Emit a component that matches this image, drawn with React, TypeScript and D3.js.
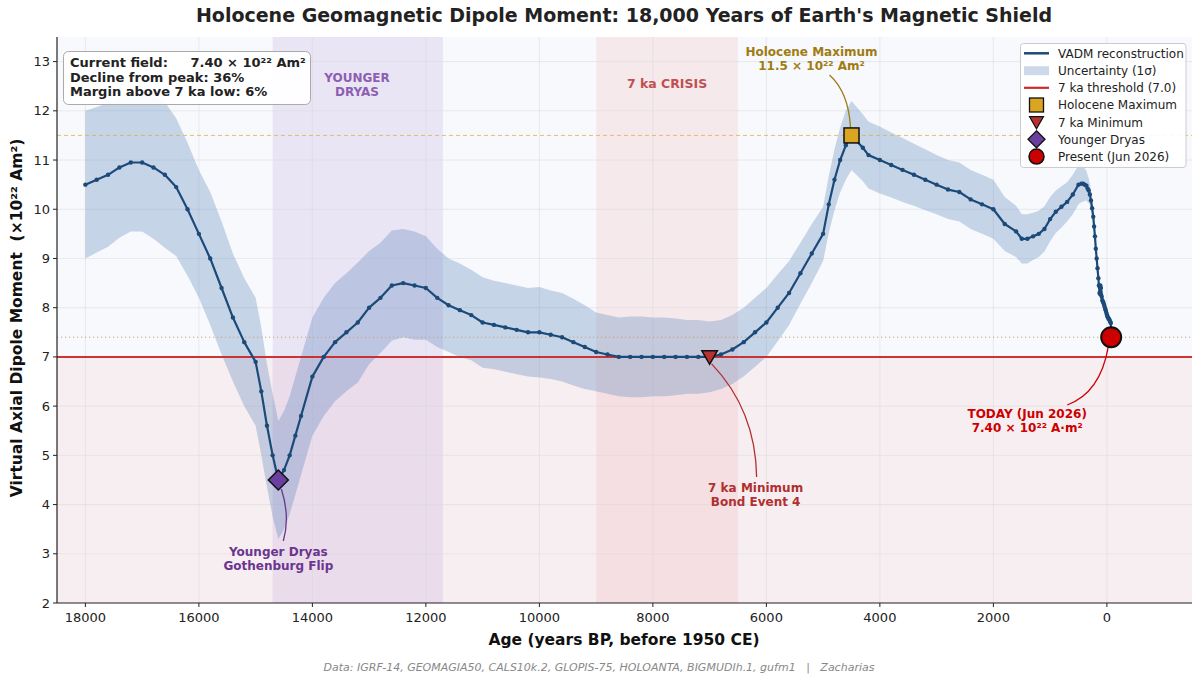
import React from "react";
import * as d3 from "d3";

const ages = [18000,17800,17600,17400,17200,17000,16800,16600,16400,16200,16000,15800,15600,15400,15200,15000,14900,14800,14700,14600,14500,14400,14300,14200,14000,13800,13600,13400,13200,13000,12800,12600,12400,12200,12000,11800,11600,11400,11200,11000,10800,10600,10400,10200,10000,9800,9600,9400,9200,9000,8800,8600,8400,8200,8000,7800,7600,7400,7200,7000,6800,6600,6400,6200,6000,5800,5600,5400,5200,5000,4900,4800,4700,4600,4500,4300,4200,4000,3800,3600,3400,3200,3000,2800,2600,2400,2200,2000,1800,1600,1500,1400,1300,1200,1100,1000,900,800,700,600,500,450,420,390,360,340,320,300,280,260,240,225,210,195,180,165,150,140,130,125,120,115,110,105,100,90,80,70,60,50,40,30,20,10,0,-10,-20,-30,-40,-50,-60,-70,-76];
const vadm = [10.5,10.6,10.7,10.85,10.95,10.95,10.85,10.7,10.45,10.0,9.5,9.0,8.4,7.8,7.3,6.9,6.3,5.6,5.0,4.5,4.7,5.0,5.4,5.8,6.6,7.0,7.3,7.5,7.7,8.0,8.2,8.45,8.5,8.45,8.4,8.2,8.05,7.95,7.85,7.7,7.65,7.6,7.55,7.5,7.5,7.45,7.4,7.3,7.2,7.1,7.05,7.0,7.0,7.0,7.0,7.0,7.0,7.0,7.0,7.0,7.05,7.15,7.3,7.5,7.7,8.0,8.3,8.7,9.1,9.5,10.1,10.6,11.0,11.3,11.5,11.25,11.1,11.0,10.9,10.8,10.7,10.6,10.5,10.4,10.35,10.2,10.1,10.0,9.7,9.55,9.4,9.4,9.45,9.5,9.6,9.8,9.95,10.05,10.15,10.3,10.5,10.52,10.52,10.5,10.48,10.42,10.38,10.3,10.18,10.02,9.85,9.65,9.45,9.2,9.0,8.8,8.6,8.45,8.3,8.42,8.28,8.45,8.32,8.4,8.26,8.22,8.15,8.12,8.1,8.06,8.02,7.98,7.95,7.9,7.86,7.82,7.8,7.78,7.76,7.74,7.71,7.69,7.4];
const sigma = [1.5,1.48,1.46,1.43,1.4,1.4,1.45,1.48,1.4,1.35,1.3,1.35,1.35,1.3,1.3,1.3,1.3,1.25,1.25,1.2,1.2,1.2,1.2,1.2,1.2,1.2,1.2,1.2,1.22,1.15,1.12,1.12,1.1,1.1,1.05,1.0,0.95,0.95,0.92,0.92,0.9,0.9,0.9,0.9,0.92,0.9,0.9,0.88,0.85,0.8,0.8,0.8,0.82,0.82,0.8,0.8,0.78,0.75,0.75,0.72,0.7,0.7,0.7,0.7,0.7,0.68,0.65,0.62,0.6,0.55,0.58,0.62,0.66,0.7,0.7,0.68,0.68,0.68,0.66,0.65,0.63,0.62,0.6,0.6,0.6,0.6,0.6,0.6,0.55,0.52,0.5,0.5,0.48,0.47,0.46,0.45,0.43,0.42,0.4,0.4,0.4,0.38,0.36,0.33,0.3,0.28,0.25,0.22,0.2,0.17,0.15,0.12,0.1,0.08,0.06,0.05,0.05,0.06,0.08,0.08,0.08,0.08,0.08,0.07,0.05,0.04,0.04,0.03,0.03,0.03,0.03,0.03,0.03,0.03,0.03,0.03,0.03,0.03,0.03,0.03,0.03,0.03,0.02];

const yTicks = [2,3,4,5,6,7,8,9,10,11,12,13];
const xTicks = [18000,16000,14000,12000,10000,8000,6000,4000,2000,0];

const threshold = 7.0;
const holoMax = { age: 4500, v: 11.5 };
const min7ka = { age: 7000, v: 7.0 };
const ydFlip = { age: 14600, v: 4.5 };
const present = { age: -76, v: 7.4 };
const ydSpan = [14700, 11700];
const crisisSpan = [9000, 6500];

const infoLines = ["Current field:     7.40 × 10²² Am²", "Decline from peak: 36%", "Margin above 7 ka low: 6%"];
const legendLabels = ["VADM reconstruction", "Uncertainty (1σ)", "7 ka threshold (7.0)", "Holocene Maximum", "7 ka Minimum", "Younger Dryas", "Present (Jun 2026)"];

const FONT = "'DejaVu Sans', Verdana, sans-serif";
const LINE = "#1c4a78";
const BAND = "rgba(70,120,180,0.28)";
const RED = "#cc2a2a";

export default function App() {
  const L = 57, R = 1192, T = 37, B = 603;
  const x = d3.scaleLinear().domain([18500, -1500]).range([L, R]);
  const y = d3.scaleLinear().domain([2, 13.5]).range([B, T]);
  const data = ages.map((a, i) => ({ a, v: vadm[i], s: sigma[i] }));
  const area = d3.area<any>().x(d => x(d.a)).y0(d => y(d.v - d.s)).y1(d => y(d.v + d.s));
  const line = d3.line<any>().x(d => x(d.a)).y(d => y(d.v));

  const hx = x(holoMax.age), hy = y(holoMax.v);
  const mx = x(min7ka.age), my = y(min7ka.v);
  const dx = x(ydFlip.age), dy = y(ydFlip.v);
  const px = x(present.age), py = y(present.v);

  const tri = (cx: number, cy: number, s: number) => `M${cx - s},${cy - s * 0.8}L${cx + s},${cy - s * 0.8}L${cx},${cy + s * 0.95}Z`;
  const dia = (cx: number, cy: number, s: number) => `M${cx},${cy - s}L${cx + s},${cy}L${cx},${cy + s}L${cx - s},${cy}Z`;

  const legY = [53.3, 70.7, 87.8, 105, 122.2, 139.3, 156.6];
  const hcx = 1036.5;

  return (
    <svg width={1200} height={683} style={{ position: "absolute", left: 0, top: 0, background: "#fff" }} fontFamily={FONT}>
      <defs>
        <clipPath id="plot"><rect x={L} y={T} width={R - L} height={B - T} /></clipPath>
      </defs>
      <rect x={0} y={0} width={1200} height={683} fill="#fff" />
      <g clipPath="url(#plot)">
        <rect x={L} y={T} width={R - L} height={B - T} fill="#f8f9fc" />
        <rect x={L} y={y(threshold)} width={R - L} height={B - y(threshold)} fill="rgba(235,70,70,0.06)" />
        <rect x={x(ydSpan[0])} y={T} width={x(ydSpan[1]) - x(ydSpan[0])} height={B - T} fill="rgba(140,90,200,0.12)" />
        <rect x={x(crisisSpan[0])} y={T} width={x(crisisSpan[1]) - x(crisisSpan[0])} height={B - T} fill="rgba(235,100,100,0.1)" />
        {yTicks.map(t => <line key={"gy" + t} x1={L} x2={R} y1={y(t)} y2={y(t)} stroke="#d8d8dc" strokeOpacity={0.6} strokeWidth={0.8} />)}
        {xTicks.map(t => <line key={"gx" + t} x1={x(t)} x2={x(t)} y1={T} y2={B} stroke="#d8d8dc" strokeOpacity={0.6} strokeWidth={0.8} />)}
        <path d={area(data) || ""} fill={BAND} />
        <line x1={L} x2={R} y1={y(holoMax.v)} y2={y(holoMax.v)} stroke="#dcae48" strokeWidth={1} strokeDasharray="4,3" opacity={0.75} />
        <line x1={L} x2={R} y1={y(present.v)} y2={y(present.v)} stroke="#c79a6c" strokeWidth={1} strokeDasharray="1.2,2.8" opacity={0.9} />
        <line x1={L} x2={R} y1={y(threshold)} y2={y(threshold)} stroke={RED} strokeWidth={2} opacity={0.95} />
        <path d={line(data) || ""} fill="none" stroke={LINE} strokeWidth={2.2} strokeLinejoin="round" />
        {data.map((d, i) => <circle key={i} cx={x(d.a)} cy={y(d.v)} r={2.2} fill={LINE} />)}
      </g>

      {/* span labels */}
      <text x={357} y={81.5} textAnchor="middle" fontSize={12} fontWeight="bold" fill="#8c5fb0">YOUNGER</text>
      <text x={357} y={95.5} textAnchor="middle" fontSize={12} fontWeight="bold" fill="#8c5fb0">DRYAS</text>
      <text x={(x(crisisSpan[0]) + x(crisisSpan[1])) / 2} y={88} textAnchor="middle" fontSize={12.5} fontWeight="bold" fill="#c05050">7 ka CRISIS</text>

      {/* annotation curves */}
      <path d={`M${hx - 22},75 Q${hx - 3},92 ${hx - 1},${hy - 8}`} fill="none" stroke="#9e7c12" strokeWidth={1.3} />
      <path d={`M${mx + 47},477 Q${mx + 46},410 ${mx + 2},${my + 7}`} fill="none" stroke="#b03030" strokeWidth={1.3} />
      <path d={`M${dx + 5},541 Q${dx + 12},517 ${dx + 3},${dy + 9}`} fill="none" stroke="#6a3590" strokeWidth={1.3} />
      <path d={`M${px - 44},405 Q${px - 11},393 ${px - 3},${py + 10}`} fill="none" stroke="#cc0000" strokeWidth={1.3} />

      {/* markers */}
      <rect x={hx - 7.5} y={hy - 7.5} width={15} height={15} fill="#daa520" stroke="#111" strokeWidth={1.5} />
      <path d={tri(mx, my, 7.8)} fill="#b83232" stroke="#111" strokeWidth={1.5} />
      <path d={dia(dx, dy, 10)} fill="#6b3fa0" stroke="#111" strokeWidth={1.5} />
      <circle cx={px} cy={py} r={10} fill="#cc0000" stroke="#111" strokeWidth={2} />

      {/* annotation text */}
      <text x={hx - 40} y={56} textAnchor="middle" fontSize={12} fontWeight="bold" fill="#9e7c12">Holocene Maximum</text>
      <text x={hx - 40} y={69.5} textAnchor="middle" fontSize={12} fontWeight="bold" fill="#9e7c12">11.5 × 10²² Am²</text>
      <text x={mx + 46} y={492} textAnchor="middle" fontSize={12} fontWeight="bold" fill="#b03030">7 ka Minimum</text>
      <text x={mx + 46} y={505.5} textAnchor="middle" fontSize={12} fontWeight="bold" fill="#b03030">Bond Event 4</text>
      <text x={dx} y={556} textAnchor="middle" fontSize={12} fontWeight="bold" fill="#6a3590">Younger Dryas</text>
      <text x={dx} y={569.5} textAnchor="middle" fontSize={12} fontWeight="bold" fill="#6a3590">Gothenburg Flip</text>
      <text x={px - 84} y={418} textAnchor="middle" fontSize={12} fontWeight="bold" fill="#cc0000">TODAY (Jun 2026)</text>
      <text x={px - 84} y={431.5} textAnchor="middle" fontSize={12} fontWeight="bold" fill="#cc0000">7.40 × 10²² A·m²</text>

      {/* axes */}
      <line x1={L} x2={L} y1={T} y2={B} stroke="#222" strokeWidth={1.2} />
      <line x1={L} x2={R} y1={B} y2={B} stroke="#222" strokeWidth={1.2} />
      {yTicks.map(t => (
        <g key={"ty" + t}>
          <line x1={L - 4} x2={L} y1={y(t)} y2={y(t)} stroke="#222" strokeWidth={1} />
          <text x={L - 7} y={y(t) + 4.5} textAnchor="end" fontSize={13} fill="#222">{t}</text>
        </g>
      ))}
      {xTicks.map(t => (
        <g key={"tx" + t}>
          <line x1={x(t)} x2={x(t)} y1={B} y2={B + 4} stroke="#222" strokeWidth={1} />
          <text x={x(t)} y={B + 19} textAnchor="middle" fontSize={13} fill="#222">{t}</text>
        </g>
      ))}

      <text x={624} y={645} textAnchor="middle" fontSize={15.5} fontWeight="bold" fill="#111">Age (years BP, before 1950 CE)</text>
      <text transform="translate(22,318) rotate(-90)" textAnchor="middle" fontSize={15.5} fontWeight="bold" fill="#111" style={{ whiteSpace: "pre" }}>{"Virtual Axial Dipole Moment  (×10²² Am²)"}</text>
      <text x={624} y={22} textAnchor="middle" fontSize={19} fontWeight="bold" fill="#222">Holocene Geomagnetic Dipole Moment: 18,000 Years of Earth's Magnetic Shield</text>
      <text x={599} y={671} textAnchor="middle" fontSize={11} fontStyle="italic" fill="#888" style={{ whiteSpace: "pre" }}>{"Data: IGRF-14, GEOMAGIA50, CALS10k.2, GLOPIS-75, HOLOANTA, BIGMUDIh.1, gufm1   |   Zacharias"}</text>

      {/* info box */}
      <rect x={63.5} y={51.5} width={247} height={53} rx={5} fill="#fff" fillOpacity={0.92} stroke="#aaa" strokeWidth={1} />
      {infoLines.map((s, i) => (
        <text key={s} x={70} y={67.3 + i * 14.4} fontSize={13} fontWeight="bold" fill="#222" style={{ whiteSpace: "pre" }}>{s}</text>
      ))}

      {/* legend */}
      <rect x={1020.5} y={43.5} width={165.5} height={124} rx={3} fill="#fff" fillOpacity={0.9} stroke="#ccc" strokeWidth={1} />
      <line x1={1024} x2={1049} y1={legY[0]} y2={legY[0]} stroke={LINE} strokeWidth={2.5} />
      <rect x={1024} y={legY[1] - 4.5} width={25} height={9} fill={BAND} />
      <line x1={1024} x2={1049} y1={legY[2]} y2={legY[2]} stroke={RED} strokeWidth={2.2} />
      <rect x={hcx - 7} y={legY[3] - 7} width={14} height={14} fill="#daa520" stroke="#111" strokeWidth={1.3} />
      <path d={tri(hcx, legY[4], 7)} fill="#b83232" stroke="#111" strokeWidth={1.2} />
      <path d={dia(hcx, legY[5], 8.5)} fill="#6b3fa0" stroke="#111" strokeWidth={1.3} />
      <circle cx={hcx} cy={legY[6]} r={7.5} fill="#cc0000" stroke="#111" strokeWidth={1.5} />
      {legendLabels.map((s, i) => (
        <text key={s} x={1058} y={legY[i] + 4.3} fontSize={12} fill="#222">{s}</text>
      ))}
    </svg>
  );
}
